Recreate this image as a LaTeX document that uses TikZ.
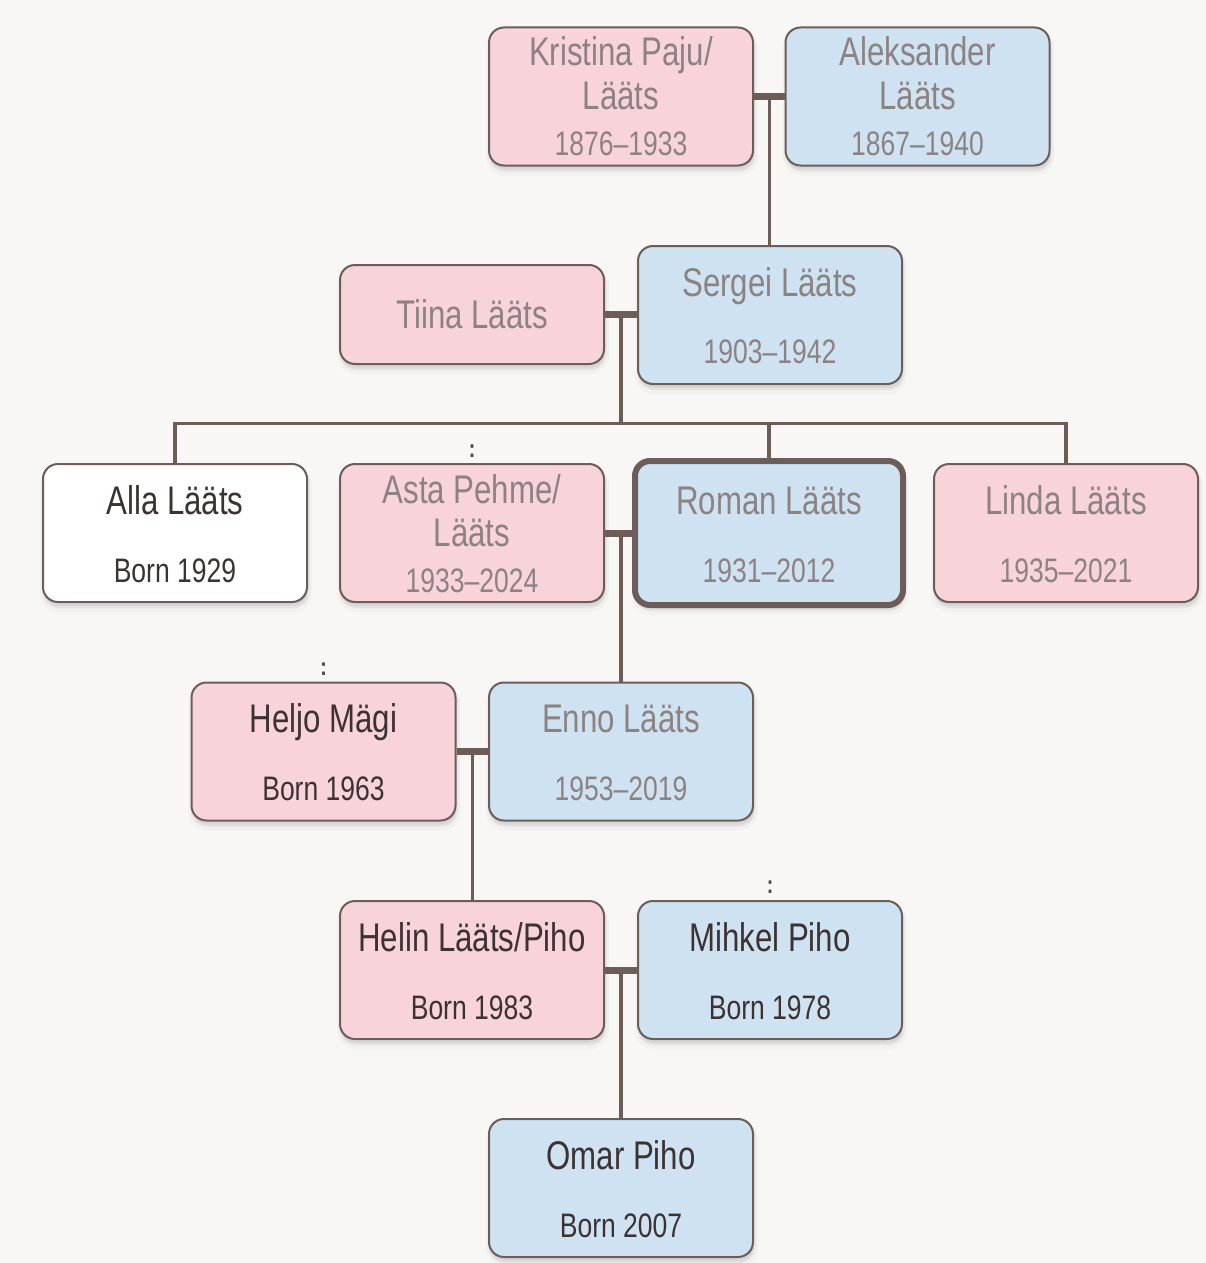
\documentclass[tikz,border=0pt]{standalone}
\usepackage{fontspec}
\setmainfont{Liberation Sans}[FakeStretch=0.78]
\usetikzlibrary{calc}
\definecolor{bg}{RGB}{248,247,245}
\definecolor{ln}{RGB}{108,93,89}
\definecolor{pk}{RGB}{248,211,217}
\definecolor{bl}{RGB}{207,226,242}
\definecolor{gt}{RGB}{140,130,130}
\definecolor{dt}{RGB}{60,50,50}
\definecolor{ct}{RGB}{75,68,68}
\begin{document}
\begin{tikzpicture}[x=1pt,y=-1pt,
  box/.style={draw=ln, line width=2pt, rounded corners=15pt, minimum width=264pt,
    minimum height=138pt, inner sep=0pt,
    preaction={draw=black, line width=8pt, draw opacity=0.025, fill=black, fill opacity=0.025, transform canvas={xshift=1pt, yshift=-6pt}},
    preaction={draw=black, line width=4pt, draw opacity=0.035, fill=black, fill opacity=0.035, transform canvas={xshift=1pt, yshift=-4pt}},
    preaction={fill=black, fill opacity=0.05, transform canvas={xshift=0.5pt, yshift=-2.5pt}}},
  female/.style={box, fill=pk},
  male/.style={box, fill=bl},
  plain/.style={box, fill=white},
  focus/.style={line width=6pt, minimum width=268pt, minimum height=144pt},
  nm/.style={font=\fontsize{40}{44}\selectfont, anchor=base, inner sep=0pt},
  yr/.style={font=\fontsize{34}{38}\selectfont, anchor=base, inner sep=0pt},
  dead/.style={text=gt},
  live/.style={text=dt},
  colonmark/.style={font=\fontsize{25}{27}\selectfont\bfseries, anchor=base, inner sep=0pt, text=ct},
  marry/.style={draw=ln, line width=7pt},
  desc/.style={draw=ln, line width=3.5pt}
]
\fill[bg] (0,0) rectangle (1206,1263);
\useasboundingbox (0,0) rectangle (1206,1263);

% ---- boxes ----
\node[female] (kristina) at (621,96.5) {};
\node[male] (aleksander) at (917.5,96.5) {};
\node[female, minimum height=99pt] (tiina) at (472,314.5) {};
\node[male] (sergei) at (770,315) {};
\node[plain] (alla) at (175,533) {};
\node[female] (asta) at (472,533) {};
\node[male, focus] (roman) at (769,533) {};
\node[female] (linda) at (1066,533) {};
\node[female] (heljo) at (323.5,751.5) {};
\node[male] (enno) at (621,751.5) {};
\node[female] (helin) at (472,970) {};
\node[male] (mihkel) at (770,970) {};
\node[male] (omar) at (621,1188) {};

% ---- connectors ----
\draw[marry] (kristina.east) -- (aleksander.west);
\coordinate (m1) at ($(kristina.east)!0.5!(aleksander.west)$);
\draw[desc] (m1) -- (m1 |- sergei.north);

\draw[marry] (tiina.east) -- (tiina.east -| sergei.west);
\coordinate (m2) at ($(tiina.east)!0.5!(tiina.east -| sergei.west)$);
\coordinate (bar) at (m2 |- 0,423.5);
\draw[desc] (m2) -- (bar);
\draw[desc] (alla.north) -- (alla.north |- bar) -- (linda.north |- bar) -- (linda.north);
\draw[desc] (roman.north |- bar) -- (roman.north);

\draw[marry] (asta.east) -- (roman.west);
\coordinate (m3) at (enno.north |- asta.east);
\draw[desc] (m3) -- (enno.north);

\draw[marry] (heljo.east) -- (enno.west);
\coordinate (m4) at ($(heljo.east)!0.5!(enno.west)$);
\draw[desc] (m4) -- (m4 |- helin.north);

\draw[marry] (helin.east) -- (mihkel.west);
\coordinate (m5) at ($(helin.east)!0.5!(mihkel.west)$);
\draw[desc] (m5) -- (m5 |- omar.north);

% ---- texts ----
\node[nm, dead] (kristina-a) at ($(kristina.center)+(0,-30.5)$) {Kristina Paju/};
\node[nm, dead] (kristina-b) at ($(kristina.center)+(0,12.5)$) {Lääts};
\node[yr, dead] (kristina-c) at ($(kristina.center)+(0,58.5)$) {1876–1933};

\node[nm, dead] (aleksander-a) at ($(aleksander.center)+(0,-30.5)$) {Aleksander};
\node[nm, dead] (aleksander-b) at ($(aleksander.center)+(0,12.5)$) {Lääts};
\node[yr, dead] (aleksander-c) at ($(aleksander.center)+(0,58.5)$) {1867–1940};

\node[nm, dead] (tiina-a) at ($(tiina.center)+(0,14)$) {Tiina Lääts};

\node[nm, dead] (sergei-a) at ($(sergei.center)+(0,-19)$) {Sergei Lääts};
\node[yr, dead] (sergei-b) at ($(sergei.center)+(0,48)$) {1903–1942};

\node[nm, live] (alla-a) at ($(alla.center)+(0,-19)$) {Alla Lääts};
\node[yr, live] (alla-b) at ($(alla.center)+(0,49)$) {Born 1929};

\node[nm, dead] (asta-a) at ($(asta.center)+(0,-30)$) {Asta Pehme/};
\node[nm, dead] (asta-b) at ($(asta.center)+(0,13)$) {Lääts};
\node[yr, dead] (asta-c) at ($(asta.center)+(0,59)$) {1933–2024};

\node[nm, dead] (roman-a) at ($(roman.center)+(0,-19)$) {Roman Lääts};
\node[yr, dead] (roman-b) at ($(roman.center)+(0,49)$) {1931–2012};

\node[nm, dead] (linda-a) at ($(linda.center)+(0,-19)$) {Linda Lääts};
\node[yr, dead] (linda-b) at ($(linda.center)+(0,49)$) {1935–2021};

\node[nm, live] (heljo-a) at ($(heljo.center)+(0,-19)$) {Heljo Mägi};
\node[yr, live] (heljo-b) at ($(heljo.center)+(0,49)$) {Born 1963};

\node[nm, dead] (enno-a) at ($(enno.center)+(0,-19)$) {Enno Lääts};
\node[yr, dead] (enno-b) at ($(enno.center)+(0,49)$) {1953–2019};

\node[nm, live] (helin-a) at ($(helin.center)+(0,-19)$) {Helin Lääts/Piho};
\node[yr, live] (helin-b) at ($(helin.center)+(0,49)$) {Born 1983};

\node[nm, live] (mihkel-a) at ($(mihkel.center)+(0,-19)$) {Mihkel Piho};
\node[yr, live] (mihkel-b) at ($(mihkel.center)+(0,49)$) {Born 1978};

\node[nm, live] (omar-a) at ($(omar.center)+(0,-19)$) {Omar Piho};
\node[yr, live] (omar-b) at ($(omar.center)+(0,49)$) {Born 2007};

% ---- colon marks ----
\node[colonmark] (asta-c1) at ($(asta.north)+(0,-6)$) {:};
\node[colonmark] (heljo-c1) at ($(heljo.north)+(0,-6)$) {:};
\node[colonmark] (mihkel-c1) at ($(mihkel.north)+(0,-7)$) {:};
\end{tikzpicture}
\end{document}
